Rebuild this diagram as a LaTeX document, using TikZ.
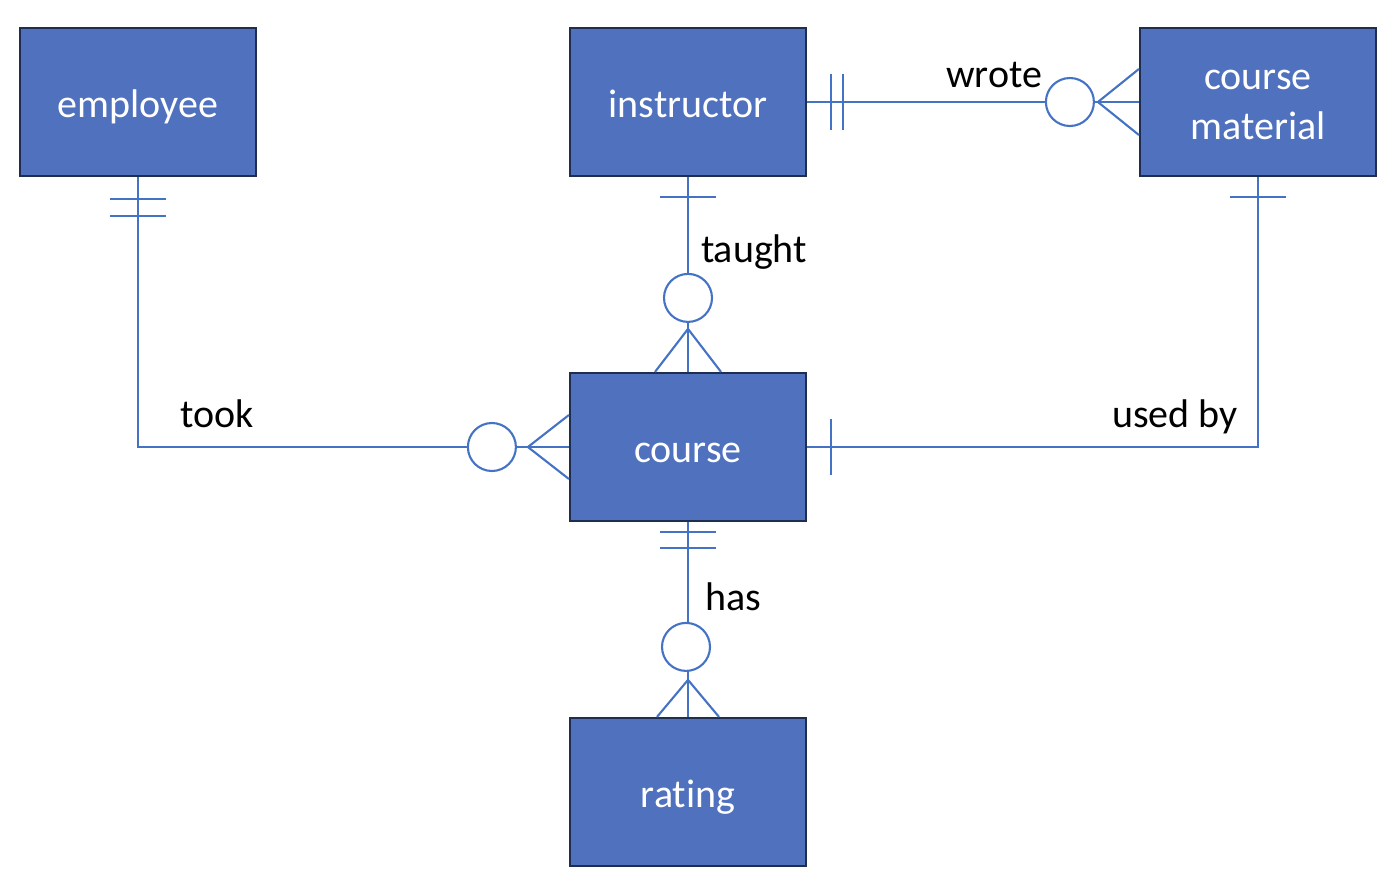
\documentclass[tikz,border=0pt]{standalone}
\usepackage{fontspec}
\setmainfont[Ligatures=NoCommon]{Carlito}
\usetikzlibrary{calc}
\definecolor{boxfill}{HTML}{4F71BE}
\definecolor{boxline}{HTML}{1F2D4F}
\definecolor{conn}{HTML}{4472C4}
\begin{document}
\begin{tikzpicture}[x=1pt,y=-1pt,
 entity/.style={draw=boxline, line width=2.2pt, fill=boxfill, minimum width=236pt, minimum height=148pt, inner sep=0pt, text=white, font=\fontsize{40}{50}\selectfont, align=center, text height=30pt, text depth=0pt},
 boxtext/.style={text=white, font=\fontsize{40}{50}\selectfont, align=center, inner sep=0pt},
 rel/.style={draw=conn, line width=2.1pt},
 lbl/.style={font=\fontsize{40}{49}\selectfont, text=black, inner sep=0pt, anchor=base},
 opt/.style={draw=conn, line width=2.1pt, fill=white, circle, minimum size=48pt, inner sep=0pt}]
\useasboundingbox (0,0) rectangle (1388,884);

% entities
\node[entity] (emp) at (138,102) {employee};
\node[entity] (ins) at (688,102) {instructor};
\node[entity] (cm)  at (1258,102) {};
\node[boxtext] (cmt) at (1258,105) {course\\material};
\node[entity] (crs) at (688,447) {course};
\node[entity] (rat) at (688,792) {rating};

% optional circles
\node[opt] (o1) at ($(cm.west)+(-69,0)$) {};
\node[opt] (o2) at ($(crs.north)+(0,-74)$) {};
\node[opt] (o3) at ($(crs.west)+(-77,0)$) {};

% apex points of crow's feet
\coordinate (a1) at ($(cm.west)+(-41,0)$);
\coordinate (a2) at ($(crs.north)+(0,-43)$);
\coordinate (a3) at ($(crs.west)+(-41,0)$);
\coordinate (a4) at ($(rat.north)+(0,-37)$);

% instructor -- course material (wrote)
\draw[rel] (ins.east) -- (o1.west);
\draw[rel] (o1.east) -- (cm.west);
\draw[rel] ($(ins.east)+(24,-28)$) -- ++(0,56);
\draw[rel] ($(ins.east)+(36,-28)$) -- ++(0,56);
\draw[rel] ($(cm.west)+(0,-33)$) -- (a1) -- ($(cm.west)+(0,33)$);
\node[lbl] (lw) at (994,87) {wrote};

% instructor -- course (taught)
\draw[rel] (ins.south) -- (o2.north);
\draw[rel] (o2.south) -- (crs.north);
\draw[rel] ($(ins.south)+(-28,20)$) -- ++(56,0);
\draw[rel] ($(crs.north)+(-33,0)$) -- (a2) -- ($(crs.north)+(33,0)$);
\node[lbl] (lt) at (754,262) {taught};

% employee -- course (took)
\draw[rel] (emp.south) |- (o3.west);
\draw[rel] (o3.east) -- (crs.west);
\draw[rel] ($(emp.south)+(-28,22)$) -- ++(56,0);
\draw[rel] ($(emp.south)+(-28,39)$) -- ++(56,0);
\draw[rel] ($(crs.west)+(0,-32)$) -- (a3) -- ($(crs.west)+(0,32)$);
\node[lbl] (lk) at (217,427) {took};

% course -- course material (used by)
\draw[rel] (crs.east) -| (cm.south);
\draw[rel] ($(crs.east)+(24,-28)$) -- ++(0,56);
\draw[rel] ($(cm.south)+(-28,20)$) -- ++(56,0);
\node[lbl] (lu) at (1175,427) {used by};

% course -- rating (has)
\draw[rel] (crs.south) -- (rat.north);
\draw[rel] ($(crs.south)+(-28,10)$) -- ++(56,0);
\draw[rel] ($(crs.south)+(-28,26)$) -- ++(56,0);
\node[opt] (o4) at ($(rat.north)+(-2,-70)$) {};
\draw[rel] ($(rat.north)+(-31,0)$) -- (a4) -- ($(rat.north)+(31,0)$);
\node[lbl] (lh) at (733,610) {has};
\end{tikzpicture}
\end{document}
